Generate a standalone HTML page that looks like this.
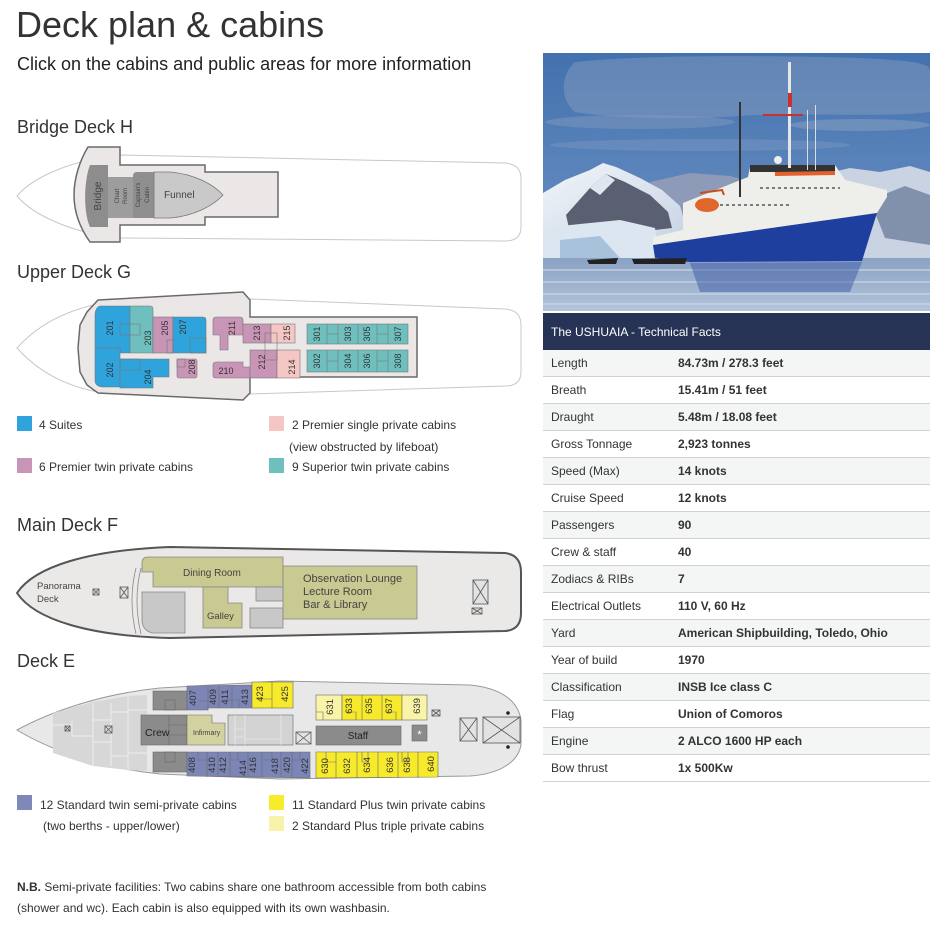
<!DOCTYPE html>
<html><head><meta charset="utf-8"><style>
html,body{margin:0;padding:0;background:#fff;width:932px;height:944px;overflow:hidden}
svg{display:block;font-family:"Liberation Sans",Arial,sans-serif}
</style></head><body>
<svg width="932" height="944" viewBox="0 0 932 944" xmlns="http://www.w3.org/2000/svg">
<defs>
<linearGradient id="sky" x1="0" y1="0" x2="0" y2="1"><stop offset="0" stop-color="#4271ad"/><stop offset="0.55" stop-color="#5f87bd"/><stop offset="1" stop-color="#8ea9cd"/></linearGradient>
<linearGradient id="water" x1="0" y1="0" x2="0" y2="1"><stop offset="0" stop-color="#8aa2c4"/><stop offset="1" stop-color="#b3c3da"/></linearGradient>
<linearGradient id="snow" x1="0" y1="0" x2="1" y2="1"><stop offset="0" stop-color="#f2f5fa"/><stop offset="1" stop-color="#c5d1e2"/></linearGradient>
<clipPath id="pc"><rect x="543" y="53" width="387" height="258"/></clipPath>
</defs>

<!-- Titles -->
<text x="16" y="37" font-size="36" fill="#333">Deck plan &amp; cabins</text>
<text x="17" y="70" font-size="18" fill="#222">Click on the cabins and public areas for more information</text>
<text x="17" y="133" font-size="18" fill="#333">Bridge Deck H</text>
<text x="17" y="278" font-size="18" fill="#333">Upper Deck G</text>
<text x="17" y="531" font-size="18" fill="#333">Main Deck F</text>
<text x="17" y="667" font-size="18" fill="#333">Deck E</text>

<!-- Bridge deck -->
<path d="M17,196 C32,178 70,160 120,155 L505,163 Q521,164 521,179 L521,227 Q521,241 505,241 L120,238 C70,233 32,214 17,196 Z" fill="#fff" stroke="#c8c8c8"/>
<path d="M88,147 L120,147 L120,165 L205,165 L205,172 L278,172 L278,217 L205,217 L205,225 L120,225 L120,242 L90,242 C80,228 74,212 74,195 C74,178 80,160 88,147 Z" fill="#ebe7e7" stroke="#6a6a6a" stroke-width="1.5"/>
<path d="M108,165 L90,165 C84,180 83,212 90,227 L108,227 Z" fill="#8d8d8d"/>
<rect x="108" y="177" width="25" height="41" fill="#9d9d9d"/>
<path d="M133,176 Q133,172 137,172 L154,172 L154,218 L133,218 Z" fill="#8f8f8f"/>
<path d="M154,172 L170,172 C195,174 214,185 223,195 C214,205 195,216 170,218 L154,218 Z" fill="#c9c9c9" stroke="#777" stroke-width="0.8"/>
<text transform="translate(101,196) rotate(-90)" text-anchor="middle" font-size="10" fill="#444">Bridge</text>
<text transform="translate(119,196) rotate(-90)" text-anchor="middle" font-size="6" fill="#444">Chart</text>
<text transform="translate(127,196) rotate(-90)" text-anchor="middle" font-size="6" fill="#444">Room</text>
<text transform="translate(140,195) rotate(-90)" text-anchor="middle" font-size="6" fill="#444">Captain's</text>
<text transform="translate(149,195) rotate(-90)" text-anchor="middle" font-size="6" fill="#444">Cabin</text>
<text x="164" y="198" font-size="10" fill="#444">Funnel</text>

<!-- Upper deck G -->
<path d="M17,348 C35,328 60,312 98,304 L250,299 L505,309 Q521,310 521,325 L521,372 Q521,386 505,386 L250,394 L98,392 C60,385 35,368 17,348 Z" fill="#fff" stroke="#c8c8c8"/>
<path d="M98,300 L243,292 L250,300 L250,317 L417,317 L417,377 L250,377 L250,393 L243,400 L98,393 L87,385 L80,372 L78,348 L80,325 L87,312 Z" fill="#ebe7e7" stroke="#6a6a6a" stroke-width="1.5"/>
<g stroke="#777" stroke-width="0.6">
<path d="M101,306 L130,306 L130,353 L120,353 L120,348 L95,348 L95,314 Q96,306 101,306 Z" fill="#2ea3dc"/>
<path d="M95,348 L120,348 L120,387 L102,387 Q95,386 95,380 Z" fill="#2ea3dc"/>
<path d="M120,359 L169,359 L169,377 L153,377 L153,388 L120,388 Z" fill="#2ea3dc"/>
<path d="M130,306 L150,306 Q153,306 153,309 L153,353 L130,353 Z" fill="#6fbfbf"/>
<rect x="153" y="317" width="20" height="36" fill="#c995b6"/>
<path d="M173,317 L203,317 Q206,317 206,320 L206,353 L173,353 Z" fill="#2ea3dc"/>
<rect x="177" y="359" width="20" height="19" rx="2" fill="#c995b6"/>
<path d="M216,317 L240,317 Q243,317 243,320 L243,335 L228,335 L228,350 L220,350 L220,335 L213,335 L213,320 Q213,317 216,317 Z" fill="#c995b6"/>
<path d="M216,362 L243,362 L243,367 L250,367 L250,378 L216,378 Q213,378 213,375 L213,365 Q213,362 216,362 Z" fill="#c995b6"/>
<rect x="243" y="324" width="28" height="19" fill="#c995b6"/>
<rect x="271" y="324" width="24" height="19" fill="#f4c6c4"/>
<rect x="250" y="350" width="27" height="28" fill="#c995b6"/>
<rect x="277" y="350" width="23" height="28" fill="#f4c6c4"/>
<rect x="307" y="324" width="101" height="20" fill="#6fbfbf"/>
<rect x="307" y="350" width="101" height="22" fill="#6fbfbf"/>
<path d="M327,324 V344 M338,324 V344 M358,324 V344 M377,324 V344 M388,324 V344 M327,334 H338 M377,334 H388" fill="none"/>
<path d="M327,350 V372 M338,350 V372 M358,350 V372 M377,350 V372 M388,350 V372 M327,361 H338 M377,361 H388" fill="none"/>
<rect x="120" y="324" width="20" height="11" fill="none"/>
<rect x="120" y="359" width="20" height="11" fill="none"/>
<rect x="167" y="340" width="6" height="13" fill="none"/>
<rect x="190" y="338" width="16" height="15" fill="none"/>
<rect x="177" y="359" width="8" height="8" fill="none"/>
<rect x="265" y="333" width="12" height="27" fill="none"/>
</g>
<g font-size="9" fill="#333" text-anchor="middle">
<text transform="translate(113,328) rotate(-90)">201</text>
<text transform="translate(151,338) rotate(-90)">203</text>
<text transform="translate(168,328) rotate(-90)">205</text>
<text transform="translate(186,327) rotate(-90)">207</text>
<text transform="translate(113,370) rotate(-90)">202</text>
<text transform="translate(151,377) rotate(-90)">204</text>
<text transform="translate(195,367) rotate(-90)">208</text>
<text transform="translate(235,328) rotate(-90)">211</text>
<text x="226" y="374">210</text>
<text transform="translate(260,333) rotate(-90)">213</text>
<text transform="translate(290,333) rotate(-90)">215</text>
<text transform="translate(265,362) rotate(-90)">212</text>
<text transform="translate(295,367) rotate(-90)">214</text>
<text transform="translate(320,334) rotate(-90)">301</text>
<text transform="translate(351,334) rotate(-90)">303</text>
<text transform="translate(370,334) rotate(-90)">305</text>
<text transform="translate(401,334) rotate(-90)">307</text>
<text transform="translate(320,361) rotate(-90)">302</text>
<text transform="translate(351,361) rotate(-90)">304</text>
<text transform="translate(370,361) rotate(-90)">306</text>
<text transform="translate(401,361) rotate(-90)">308</text>
</g>

<!-- Legend G -->
<rect x="17" y="416" width="15" height="15" fill="#2ea3dc"/>
<rect x="17" y="458" width="15" height="15" fill="#c995b6"/>
<rect x="269" y="416" width="15" height="15" fill="#f4c6c4"/>
<rect x="269" y="458" width="15" height="15" fill="#6fbfbf"/>
<g font-size="12" fill="#333">
<text x="39" y="429">4 Suites</text>
<text x="39" y="471">6 Premier twin private cabins</text>
<text x="292" y="429">2 Premier single private cabins</text>
<text x="289" y="451">(view obstructed by lifeboat)</text>
<text x="292" y="471">9 Superior twin private cabins</text>
</g>

<!-- Main deck F -->
<path d="M17,593 C35,566 90,550 170,547 L505,553 Q521,555 521,572 L521,613 Q521,630 505,631 L170,638 C90,636 35,620 17,593 Z" fill="#ebe8e8" stroke="#555" stroke-width="2"/>
<text x="37" y="589" font-size="9.5" fill="#444">Panorama</text>
<text x="37" y="602" font-size="9.5" fill="#444">Deck</text>
<g stroke="#555" stroke-width="0.8" fill="#e2e2e2">
<rect x="93" y="589" width="6" height="6"/><path d="M93,589 L99,595 M99,589 L93,595"/>
<rect x="120" y="587" width="8" height="11"/><path d="M120,587 L128,598 M128,587 L120,598"/>
<rect x="473" y="580" width="15" height="24"/><path d="M473,580 L488,604 M488,580 L473,604"/>
<rect x="472" y="608" width="10" height="6"/><path d="M472,608 L482,614 M482,608 L472,614"/>
</g>
<path d="M136,568 Q128,600 136,634 M141,568 Q133,600 141,634" fill="none" stroke="#888" stroke-width="0.8"/>
<g stroke="#888" stroke-width="0.8">
<path d="M148,557 L283,557 L283,587 L153,587 L153,572 L142,572 L142,563 Q142,557 148,557 Z" fill="#c9c992"/>
<path d="M142,592 L185,592 L185,633 L152,633 Q142,630 142,620 Z" fill="#c8c8c8"/>
<path d="M203,587 L228,587 L228,603 L242,603 L242,628 L203,628 Z" fill="#c9c992"/>
<rect x="256" y="587" width="27" height="14" fill="#c8c8c8"/>
<rect x="250" y="608" width="33" height="20" fill="#c8c8c8"/>
<rect x="283" y="566" width="134" height="53" fill="#c9c992"/>
</g>
<g fill="#444">
<text x="183" y="576" font-size="10">Dining Room</text>
<text x="207" y="619" font-size="9.5">Galley</text>
<text x="303" y="582" font-size="11">Observation Lounge</text>
<text x="303" y="595" font-size="11">Lecture Room</text>
<text x="303" y="608" font-size="11">Bar &amp; Library</text>
</g>

<!-- Deck E -->
<path d="M17,730 C50,712 100,694 160,688 L280,681 L470,685 C500,688 518,700 521,720 L521,745 C518,762 500,774 470,776 L280,779 L160,774 C100,768 50,750 17,730 Z" fill="#e8e8e8" stroke="#9a9a9a"/>
<path d="M53,713 L93,702 L128,696 L147,695 L147,771 L128,770 L93,766 L53,753 Z" fill="#d7d7d7"/>
<g stroke="#f3f3f3" stroke-width="0.8" fill="none">
<path d="M72,721 V736 M93,703 V766 M111,703 V766 M128,696 V770 M128,710 H147 M128,753 H147 M93,720 H111 M93,742 H111 M53,725 H72 M72,736 H93 M111,712 H128 M111,756 H128"/>
</g>
<g stroke="#555" stroke-width="0.8" fill="#e2e2e2">
<rect x="65" y="726" width="5" height="5"/><path d="M65,726 L70,731 M70,726 L65,731"/>
<rect x="105" y="726" width="7" height="7"/><path d="M105,726 L112,733 M112,726 L105,733"/>
<rect x="296" y="732" width="15" height="12"/><path d="M296,732 L311,744 M311,732 L296,744"/>
<rect x="432" y="710" width="8" height="6"/><path d="M432,710 L440,716 M440,710 L432,716"/>
<rect x="460" y="718" width="17" height="23"/><path d="M460,718 L477,741 M477,718 L460,741"/>
<rect x="483" y="717" width="37" height="26"/><path d="M483,717 L520,743 M520,717 L483,743"/>
</g>
<circle cx="508" cy="713" r="1.8" fill="#222"/>
<circle cx="508" cy="747" r="1.8" fill="#222"/>
<g stroke="#6a6a6a" stroke-width="0.6">
<rect x="153" y="691" width="34" height="19" fill="#8b8b8b"/>
<rect x="165" y="700" width="10" height="10" fill="none"/>
<rect x="153" y="752" width="34" height="20" fill="#8b8b8b"/>
<rect x="165" y="752" width="10" height="10" fill="none"/>
<rect x="141" y="715" width="46" height="30" fill="#8b8b8b"/>
<path d="M169,715 V745 M169,725 H187 M169,735 H187" fill="none"/>
<path d="M187,715 L212,715 L212,723 L225,723 L225,745 L187,745 Z" fill="#d2d1a0"/>
<rect x="228" y="715" width="65" height="30" fill="#d3d3d3"/>
<path d="M235,715 V745 M245,715 V745 M235,729 H245 M235,737 H245 M281,715 V745 M245,739 H281" fill="none" stroke="#eee"/>
<rect x="316" y="726" width="85" height="19" fill="#8b8b8b"/>
<rect x="412" y="725" width="15" height="16" fill="#8b8b8b"/>
<path d="M187,686 L252,685 L252,708 L208,708 L208,710 L187,710 Z" fill="#7c86b6"/>
<path d="M208,686 V708 M219,686 V708 M232,686 V708 M198,701 H208 V710 M228,700 H239 V708" fill="none"/>
<rect x="252" y="682" width="41" height="26" fill="#f7ea2a"/>
<path d="M272,682 V708 M259,699 H272 V708" fill="none"/>
<rect x="316" y="695" width="26" height="25" fill="#f9f4a8"/>
<rect x="342" y="695" width="60" height="25" fill="#f7ea2a"/>
<rect x="402" y="695" width="25" height="25" fill="#f9f4a8"/>
<path d="M362,695 V720 M382,695 V720 M316,712 H323 V720 M346,712 H356 V720 M386,712 H396 V720" fill="none"/>
<path d="M187,752 L310,752 L310,778 L187,776 Z" fill="#7c86b6"/>
<path d="M207,752 V777 M218,752 V777 M230,752 V777 M248,752 V777 M262,752 V777 M281,752 V777 M292,752 V777 M198,752 V760 H207 M230,760 H238 V752 M262,760 H272 V752 M292,760 H300 V752" fill="none"/>
<path d="M316,752 L438,752 L438,777 L316,778 Z" fill="#f7ea2a"/>
<path d="M336,752 V778 M357,752 V778 M378,752 V778 M398,752 V778 M418,752 V778 M326,752 V762 H336 M362,752 V762 H368 V752 M402,752 V762 H408 V752" fill="none"/>
</g>
<text x="145" y="736" font-size="10.5" fill="#222">Crew</text>
<text x="193" y="735" font-size="7" fill="#444">Infirmary</text>
<text x="358" y="739" font-size="10" fill="#222" text-anchor="middle">Staff</text>
<text x="419.5" y="738" font-size="11" fill="#fff" text-anchor="middle">*</text>
<g font-size="9.5" fill="#333" text-anchor="middle">
<text transform="translate(196,698) rotate(-90)">407</text>
<text transform="translate(216,697) rotate(-90)">409</text>
<text transform="translate(228,697) rotate(-90)">411</text>
<text transform="translate(248,697) rotate(-90)">413</text>
<text transform="translate(263,694) rotate(-90)">423</text>
<text transform="translate(288,694) rotate(-90)">425</text>
<text transform="translate(333,707) rotate(-90)">631</text>
<text transform="translate(352,706) rotate(-90)">633</text>
<text transform="translate(372,706) rotate(-90)">635</text>
<text transform="translate(392,706) rotate(-90)">637</text>
<text transform="translate(420,706) rotate(-90)">639</text>
<text transform="translate(195,765) rotate(-90)">408</text>
<text transform="translate(215,765) rotate(-90)">410</text>
<text transform="translate(226,765) rotate(-90)">412</text>
<text transform="translate(246,768) rotate(-90)">414</text>
<text transform="translate(256,765) rotate(-90)">416</text>
<text transform="translate(278,766) rotate(-90)">418</text>
<text transform="translate(290,765) rotate(-90)">420</text>
<text transform="translate(308,766) rotate(-90)">422</text>
<text transform="translate(328,766) rotate(-90)">630</text>
<text transform="translate(350,766) rotate(-90)">632</text>
<text transform="translate(370,765) rotate(-90)">634</text>
<text transform="translate(393,765) rotate(-90)">636</text>
<text transform="translate(410,765) rotate(-90)">638</text>
<text transform="translate(434,764) rotate(-90)">640</text>
</g>

<!-- Legend E -->
<rect x="17" y="795" width="15" height="15" fill="#7f88b8"/>
<rect x="269" y="795" width="15" height="15" fill="#f7ec2c"/>
<rect x="269" y="816" width="15" height="15" fill="#f8f3a8"/>
<g font-size="12" fill="#333">
<text x="40" y="809">12 Standard twin semi-private cabins</text>
<text x="43" y="830">(two berths - upper/lower)</text>
<text x="292" y="809">11 Standard Plus twin private cabins</text>
<text x="292" y="830">2 Standard Plus triple private cabins</text>
<text x="17" y="891"><tspan font-weight="bold">N.B.</tspan> Semi-private facilities: Two cabins share one bathroom accessible from both cabins</text>
<text x="17" y="912">(shower and wc). Each cabin is also equipped with its own washbasin.</text>
</g>

<!-- Photo -->
<g clip-path="url(#pc)">
<rect x="543" y="53" width="387" height="258" fill="url(#sky)"/>
<path d="M575,62 C640,55 760,55 860,58 C900,60 930,62 930,70 L930,112 C880,118 800,112 740,116 C680,120 610,118 575,112 C560,100 560,75 575,62 Z" fill="#93a6c3" opacity="0.4"/>
<ellipse cx="640" cy="122" rx="95" ry="7" fill="#7f98be" opacity="0.5"/>
<ellipse cx="860" cy="125" rx="70" ry="6" fill="#8aa1c4" opacity="0.5"/>
<ellipse cx="700" cy="145" rx="150" ry="6" fill="#7b98c2" opacity="0.45"/>
<path d="M650,182 L690,173 L730,176 L760,184 L760,230 L650,230 Z" fill="#8d9bb8"/>
<path d="M820,175 L850,168 L880,172 L910,166 L930,172 L930,258 L830,258 Z" fill="#c9d3e2"/>
<path d="M870,200 L905,186 L930,195 L930,245 L885,238 Z" fill="#8191ab"/>
<path d="M543,193 L565,180 L590,170 L603,163 L616,167 L640,178 L662,190 L680,206 L690,240 L543,252 Z" fill="url(#snow)"/>
<path d="M566,215 L590,188 L606,174 L625,182 L650,195 L668,212 L672,228 L605,236 L570,232 Z" fill="#5a5f71"/>
<path d="M590,188 L606,174 L615,180 L600,195 Z" fill="#dfe6f0"/>
<path d="M543,228 L580,224 L620,220 L655,228 L660,258 L543,258 Z" fill="#dbe6f1"/>
<path d="M560,240 L600,236 L620,258 L560,258 Z" fill="#a9c2dc"/>
<rect x="543" y="258" width="387" height="53" fill="url(#water)"/>
<path d="M543,270 H930 M543,282 H930 M543,294 H930 M543,304 H930" stroke="#ccd8e6" stroke-width="2" opacity="0.6"/>
<path d="M690,263 L862,262 L850,292 L700,292 Z" fill="#3c59a6" opacity="0.5"/>
<path d="M653,237 L683,230 L683,203 L748,177 L750,167 L835,165 L845,180 L887,190 L887,197 L877,213 L653,245 Z" fill="#eeeeea"/>
<rect x="750" y="165" width="85" height="7" fill="#333"/>
<path d="M653,245 L877,213 L870,235 L862,261 L690,262 L655,258 Z" fill="#1f3f9f"/>
<path d="M775,172 L835,171 L835,175 L775,176 Z" fill="#e4602c"/>
<ellipse cx="707" cy="205" rx="12" ry="7" fill="#e0662e"/>
<path d="M700,193 L722,190 L724,195" stroke="#c94d22" stroke-width="2" fill="none"/>
<path d="M760,188 H840 M720,205 H790" stroke="#555" stroke-width="1.5" stroke-dasharray="3 3"/>
<rect x="788" y="62" width="3" height="106" fill="#e6e6e6"/>
<rect x="788" y="93" width="4" height="14" fill="#c8322a"/>
<rect x="763" y="114" width="40" height="2" fill="#c8322a"/>
<rect x="739" y="102" width="2" height="95" fill="#333"/>
<rect x="807" y="110" width="1" height="60" fill="#ddd"/>
<rect x="815" y="105" width="1" height="65" fill="#ddd"/>
<circle cx="778" cy="160" r="4" fill="#eee"/>
<path d="M587,260 L618,258 L616,264 L589,264 Z" fill="#222"/>
<path d="M632,259 L687,258 L685,264 L634,264 Z" fill="#222"/>
</g>

<!-- Table -->
<rect x="543" y="313" width="387" height="37" fill="#263354"/>
<text x="551" y="336" font-size="12" fill="#fff">The USHUAIA - Technical Facts</text>
<g>
<rect x="543" y="350" width="387" height="27" fill="#f4f5f5"/>
<rect x="543" y="404" width="387" height="27" fill="#f4f5f5"/>
<rect x="543" y="458" width="387" height="27" fill="#f4f5f5"/>
<rect x="543" y="512" width="387" height="27" fill="#f4f5f5"/>
<rect x="543" y="566" width="387" height="27" fill="#f4f5f5"/>
<rect x="543" y="620" width="387" height="27" fill="#f4f5f5"/>
<rect x="543" y="674" width="387" height="27" fill="#f4f5f5"/>
<rect x="543" y="728" width="387" height="27" fill="#f4f5f5"/>
</g>
<path d="M543,376.5 H930 M543,403.5 H930 M543,430.5 H930 M543,457.5 H930 M543,484.5 H930 M543,511.5 H930 M543,538.5 H930 M543,565.5 H930 M543,592.5 H930 M543,619.5 H930 M543,646.5 H930 M543,673.5 H930 M543,700.5 H930 M543,727.5 H930 M543,754.5 H930 M543,781.5 H930" stroke="#d2d2d2" stroke-width="1"/>
<g font-size="12" fill="#333">
<text x="551" y="367">Length</text>
<text x="551" y="394">Breath</text>
<text x="551" y="421">Draught</text>
<text x="551" y="448">Gross Tonnage</text>
<text x="551" y="475">Speed (Max)</text>
<text x="551" y="502">Cruise Speed</text>
<text x="551" y="529">Passengers</text>
<text x="551" y="556">Crew &amp; staff</text>
<text x="551" y="583">Zodiacs &amp; RIBs</text>
<text x="551" y="610">Electrical Outlets</text>
<text x="551" y="637">Yard</text>
<text x="551" y="664">Year of build</text>
<text x="551" y="691">Classification</text>
<text x="551" y="718">Flag</text>
<text x="551" y="745">Engine</text>
<text x="551" y="772">Bow thrust</text>
</g>
<g font-size="12" fill="#333" font-weight="bold">
<text x="678" y="367">84.73m / 278.3 feet</text>
<text x="678" y="394">15.41m / 51 feet</text>
<text x="678" y="421">5.48m / 18.08 feet</text>
<text x="678" y="448">2,923 tonnes</text>
<text x="678" y="475">14 knots</text>
<text x="678" y="502">12 knots</text>
<text x="678" y="529">90</text>
<text x="678" y="556">40</text>
<text x="678" y="583">7</text>
<text x="678" y="610">110 V, 60 Hz</text>
<text x="678" y="637">American Shipbuilding, Toledo, Ohio</text>
<text x="678" y="664">1970</text>
<text x="678" y="691">INSB Ice class C</text>
<text x="678" y="718">Union of Comoros</text>
<text x="678" y="745">2 ALCO 1600 HP each</text>
<text x="678" y="772">1x 500Kw</text>
</g>
</svg>
</body></html>
